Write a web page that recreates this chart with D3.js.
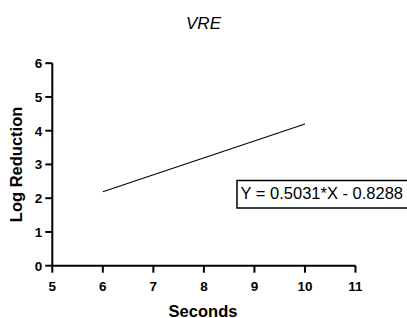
<!DOCTYPE html>
<html>
<head>
<meta charset="utf-8">
<script src="https://cdn.jsdelivr.net/npm/d3@7"></script>
<style>
	body { margin: 0; background: #fff; }
	svg { display: block; font-family: "Liberation Sans", Arial, sans-serif; }
</style>
</head>
<body>
<div id="chart"></div>
<script>
// fitted line
var lineX = [6, 10];
var lineY = [2.19, 4.20];
var xTicks = [5, 6, 7, 8, 9, 10, 11];
var yTicks = [0, 1, 2, 3, 4, 5, 6];
var equation = "Y = 0.5031*X - 0.8288";

var svg = d3.select("#chart")
	.append("svg")
	.attr("width", 407)
	.attr("height", 318);

var x = d3.scaleLinear().domain([5, 11]).range([52.3, 355.5]);
var y = d3.scaleLinear().domain([0, 6]).range([265.7, 63.2]);

// axes, drawn by hand from the scales
var ax = svg.append("g").attr("stroke", "#000").attr("stroke-width", 2);
ax.append("line")
	.attr("x1", x(5)).attr("x2", x(11))
	.attr("y1", y(0)).attr("y2", y(0));
ax.append("line")
	.attr("x1", x(5)).attr("x2", x(5))
	.attr("y1", y(0)).attr("y2", y(6));
ax.selectAll(".xt").data(xTicks).enter().append("line")
	.attr("class", "xt")
	.attr("x1", function(d){ return x(d); }).attr("x2", function(d){ return x(d); })
	.attr("y1", y(0)).attr("y2", y(0) + 7);
ax.selectAll(".yt").data(yTicks).enter().append("line")
	.attr("class", "yt")
	.attr("x1", x(5) - 7).attr("x2", x(5))
	.attr("y1", function(d){ return y(d); }).attr("y2", function(d){ return y(d); });

svg.selectAll(".xl").data(xTicks).enter().append("text")
	.attr("class", "xl")
	.text(function(d){ return d; })
	.attr("x", function(d){ return x(d); })
	.attr("y", y(0) + 25.5)
	.attr("text-anchor", "middle")
	.style("font-weight", "bold")
	.style("font-size", "13.5px");
svg.selectAll(".yl").data(yTicks).enter().append("text")
	.attr("class", "yl")
	.text(function(d){ return d; })
	.attr("x", x(5) - 10)
	.attr("y", function(d){ return y(d) + 4.8; })
	.attr("text-anchor", "end")
	.style("font-weight", "bold")
	.style("font-size", "13.5px");

// regression line
var pts = lineX.map(function(d, i){ return [d, lineY[i]]; });
svg.append("path")
	.datum(pts)
	.attr("fill", "none")
	.attr("stroke", "#000")
	.attr("stroke-width", 1.1)
	.attr("d", d3.line().x(function(d){ return x(d[0]); }).y(function(d){ return y(d[1]); }));

// equation box
svg.append("rect")
	.attr("x", 237)
	.attr("y", 180.5)
	.attr("width", 200)
	.attr("height", 27.5)
	.attr("fill", "#fff")
	.attr("stroke", "#000")
	.attr("stroke-width", 1.5);
svg.append("text")
	.text(equation)
	.attr("x", 240.5)
	.attr("y", 198.5)
	.style("font-size", "16.5px");

// titles
svg.append("text")
	.text("VRE")
	.attr("x", 203.5)
	.attr("y", 28.5)
	.attr("text-anchor", "middle")
	.style("font-style", "italic")
	.style("font-size", "17px");

svg.append("text")
	.text("Seconds")
	.attr("x", 203)
	.attr("y", 316.5)
	.attr("text-anchor", "middle")
	.style("font-weight", "bold")
	.style("font-size", "16.5px");

svg.append("text")
	.text("Log Reduction")
	.attr("transform", "translate(22," + y(3) + ") rotate(-90)")
	.attr("text-anchor", "middle")
	.style("font-weight", "bold")
	.style("font-size", "16.5px");
</script>
</body>
</html>
